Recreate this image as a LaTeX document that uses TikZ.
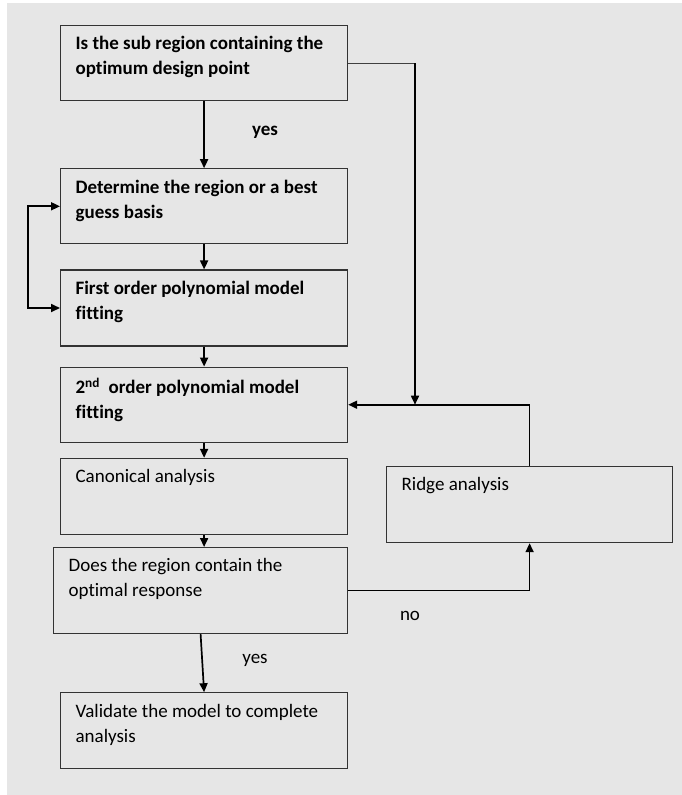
\documentclass[tikz,border=0pt]{standalone}
\usepackage{fontspec}
\setmainfont{Carlito}[Ligatures=NoCommon]
\usetikzlibrary{positioning,arrows.meta}
\definecolor{bg}{HTML}{E6E6E6}
\newcommand{\boxtext}[3]{\parbox[c][#1][t]{#2}{\raggedright\vspace*{11pt}#3}}

\begin{document}
\begin{tikzpicture}[x=1pt,y=-1pt,
  font=\fontsize{19}{25}\selectfont,
  bf/.style={font=\fontsize{19}{25}\selectfont\bfseries},
  stepbox/.style={draw=black!80,line width=1.2pt,inner xsep=15pt,inner ysep=0pt},
  ar/.style={-{Triangle[length=9pt,width=8pt]},line width=1.7pt},
  lbl/.style={inner sep=0pt}]
\useasboundingbox (0,0) rectangle (682,795);
\fill[bg] (7,3) rectangle (682,795);
% main column
\node[stepbox,bf,anchor=north west] (sub) at (60,25)
  {\boxtext{75pt}{257pt}{Is the sub region containing the\\optimum design point}};
\node[stepbox,bf,below=67pt of sub] (guess)
  {\boxtext{75pt}{257pt}{Determine the region or a best\\guess basis}};
\node[stepbox,bf,below=25pt of guess] (first)
  {\boxtext{76pt}{257pt}{First order polynomial model\\fitting}};
\node[stepbox,bf,below=20pt of first] (second)
  {\boxtext{75pt}{257pt}{2\textsuperscript{nd}\ \ order polynomial model\\fitting}};
\node[stepbox,below=15pt of second] (canon)
  {\boxtext{76pt}{257pt}{Canonical analysis}};
\node[stepbox,below=12pt of canon,xshift=-3.5pt] (contain)
  {\boxtext{86pt}{264pt}{Does the region contain the\\optimal response}};
\node[stepbox,below=58pt of contain,xshift=3.5pt] (valid)
  {\boxtext{76pt}{257pt}{Validate the model to complete\\analysis}};
% side box
\node[stepbox,anchor=north west] (ridge) at (386,466)
  {\boxtext{76pt}{256pt}{Ridge analysis}};
% connectors
\draw[ar] (sub) -- (guess);
\draw[ar] (guess) -- (first);
\draw[ar] (first) -- (second);
\draw[ar] (second) -- (canon);
\draw[ar] (canon.south) -- (canon.south |- contain.north);
\draw[ar] (contain.south) -- (valid.north);
\draw[ar,{Triangle[length=9pt,width=8pt]}-{Triangle[length=9pt,width=8pt]}] (guess.west) -- ++(-32,0) |- (first.west);
\coordinate (turn) at (415,0 |- sub.east);
\coordinate (join) at (turn |- second.east);
\draw[line width=0.8pt,black!75] (sub.east) -- (turn);
\draw[ar] (turn) -- (join);
\draw[ar] (ridge.north) |- (second.east);
\draw[ar] (contain.east) -| (ridge.south);
% labels
\node[lbl,bf] (yes1) at (265,132) {yes};
\node[lbl] (no) at (410,616) {no};
\node[lbl] (yes2) at (255,660) {yes};
\end{tikzpicture}
\end{document}
